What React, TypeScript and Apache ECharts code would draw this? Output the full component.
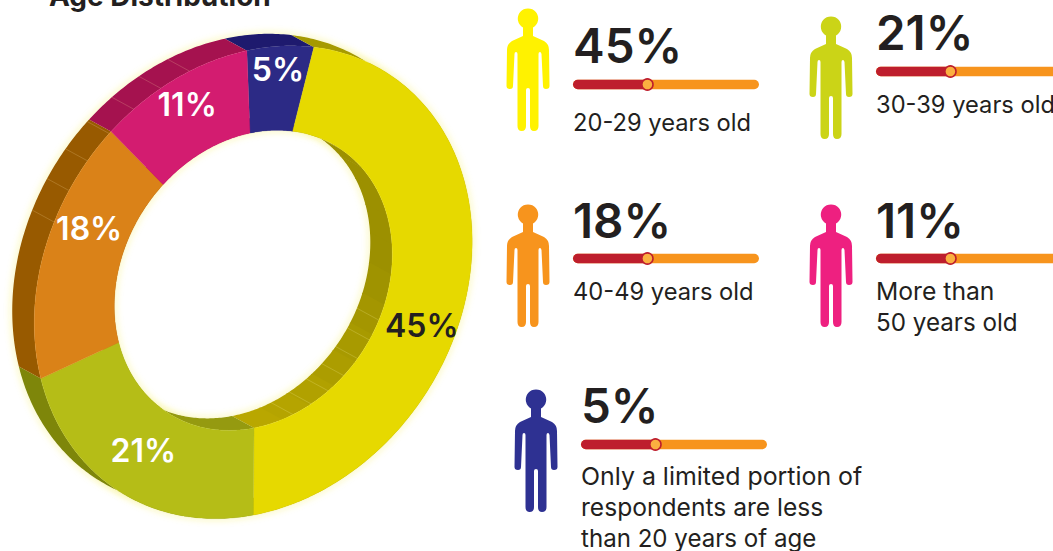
import React, { useEffect, useRef } from "react";
import * as echarts from "echarts";

// Age shares, in clockwise order from twelve o'clock
const sliceNames = ["Under 20", "20-29", "30-39", "40-49", "50+"];
const sliceValues = [5, 45, 21, 18, 11];
const faceColors = ["#2c2a85", "#e6d900", "#b5bd17", "#da8218", "#d31c70"];
const wallColors = ["#1e1a6e", "#a69a00", "#7e860a", "#985a00", "#a5124f"];
const labelColors = ["#ffffff", "#231f20", "#ffffff", "#ffffff", "#ffffff"];
// angle in degrees and fraction of the outer radius for each slice's label
const labelAngles = [3.1, 108.1, 211.7, 290.1, 335.1];
const labelRadii = [0.9, 0.84, 0.81, 0.826, 0.865];

// Legend cards
const cardValues = ["45%", "21%", "18%", "11%", "5%"];
const cardLines = [
  ["20-29 years old"],
  ["30-39 years old"],
  ["40-49 years old"],
  ["More than", "50 years old"],
  ["Only a limited portion of", "respondents are less", "than 20 years of age"],
];
const cardLineSizes = [[23.7], [23.7], [23.7], [24.7, 24.2], [24.9, 24.6, 24.1]];
const cardColors = ["#fff200", "#cbd417", "#f7941d", "#ee2080", "#2e3192"];
const cardIconX = [507, 810, 507, 810, 515];
const cardIconY = [8, 16, 204, 204, 389];
const cardTextX = [574, 877, 574, 877, 582];
const cardValueY = [45.5, 32.5, 220.5, 220.5, 405.5];
const cardBarY = [84.5, 71.5, 258.5, 258.5, 444.5];
const cardLineY = [122, 104, 291, 291, 476];

const START_ANGLE = -6;
const CENTER_X = 250;
const CENTER_Y = 279;
const RADIUS_X = 218;
const RADIUS_Y = 235.5;
const SHEAR = -19.7;
const TILT_X = 0.016;
const TILT_Y = 0.015;
const INNER = 0.635;
const HOLE_SHIFT_X = 2;
const DEPTH_X = -22;
const DEPTH_Y = -12;
const INK = "#231f20";
const FONT = "Inter";

const PERSON_PATH =
  "M16 19.5 A10.2 10.2 0 1 1 26 19.5 L26 28 L37 33 Q42 36 42 42 L42.5 78 Q42.5 81 39 81 Q36 81 36 78 L34.5 46 Q34 44 33 44 Q31.5 44 31.5 46 L31.5 118 Q31.5 123 27 123 Q23 123 23 118 L23 82 Q23 80 21 80 Q19 80 19 82 L19 118 Q19 123 14.7 123 Q10.5 123 10.5 118 L10.5 46 Q10.5 44 9 44 Q7.5 44 7.5 46 L6 78 Q6 81 3 81 Q-0.5 81 -0.5 78 L0 42 Q0 36 5 33 L16 28 Z";
echarts.graphic.registerShape("person", (echarts.graphic as any).extendPath(PERSON_PATH, {}));

// Tilted disc: a point at a clockwise angle from the top and a radius fraction
function project(deg: number, r: number, depth = 0): number[] {
  const a = (deg * Math.PI) / 180;
  const u = r * Math.sin(a);
  const v = -r * Math.cos(a);
  const w = 1 - TILT_X * u - TILT_Y * v;
  const shift = r === INNER ? HOLE_SHIFT_X : 0;
  return [
    CENTER_X + shift + (RADIUS_X * u + SHEAR * v) / w + DEPTH_X * depth,
    CENTER_Y + (SHEAR * u + RADIUS_Y * v) / w + DEPTH_Y * depth,
  ];
}

function arc(from: number, to: number, r: number, depth = 0): number[][] {
  const steps = Math.max(2, Math.ceil(Math.abs(to - from) / 0.75));
  const pts: number[][] = [];
  for (let i = 0; i <= steps; i++) pts.push(project(from + ((to - from) * i) / steps, r, depth));
  return pts;
}

function sliceRange(index: number): number[] {
  const total = sliceValues.reduce((s, v) => s + v, 0);
  const before = sliceValues.slice(0, index).reduce((s, v) => s + v, 0);
  const from = START_ANGLE + (before / total) * 360;
  return [from, from + (sliceValues[index] / total) * 360];
}

function mixColor(a: number[], b: number[], t: number): string {
  return `rgb(${a.map((c, i) => Math.round(c + (b[i] - c) * t)).join(",")})`;
}

// Side walls of one slice: an outer band and an inner band, split into shaded facets
function renderWalls(params: any) {
  const i = params.dataIndex;
  const [from, to] = sliceRange(i);
  const children: any[] = [];
  const band = (a0: number, a1: number, r: number, fill: string) => ({
    type: "polygon",
    shape: { points: [...arc(a0, a1, r, 0), ...arc(a1, a0, r, 1)] },
    style: { fill },
  });
  children.push(band(from, to, 1, wallColors[i]));
  if (i === 1) {
    const facets = 14;
    for (let k = 0; k < facets; k++) {
      const a0 = from + ((to - from) * k) / facets;
      const a1 = from + ((to - from) * (k + 1)) / facets;
      const t = Math.max(0, Math.min(1, ((a0 + a1) / 2 - 90) / 80));
      children.push(band(a0, Math.min(to, a1 + 0.6), INNER, mixColor([156, 144, 0], [186, 168, 0], t)));
    }
  } else {
    children.push(band(from, to, INNER, i === 2 ? "#959a10" : wallColors[i]));
  }
  // faint facet seams on the walls
  const seam = (deg: number, r: number, color: string) => {
    const [x1, y1] = project(deg, r, 0);
    const [x2, y2] = project(deg, r, 1);
    return { type: "line", shape: { x1, y1, x2, y2 }, style: { stroke: color, lineWidth: 0.6 } };
  };
  for (let k = 0; k < 7; k++) {
    const outer = 289 + k * 8.25;
    if (outer >= from && outer < to) children.push(seam(outer, 1, "rgba(255,225,170,0.35)"));
    const inner = 110.5 + k * 7.9;
    if (inner >= from && inner < to) children.push(seam(inner, INNER, "rgba(255,250,170,0.35)"));
  }
  return { type: "group", children };
}

// Top face of one slice with its percentage
function renderFace(params: any, api: any) {
  const i = params.dataIndex;
  const [from, to] = sliceRange(i);
  const [lx, ly] = project(labelAngles[i], labelRadii[i]);
  return {
    type: "group",
    children: [
      {
        type: "polygon",
        shape: { points: [...arc(from, to, 1), ...arc(to, from, INNER)] },
        style: { fill: faceColors[i], stroke: faceColors[i], lineWidth: 0.3 },
      },
      {
        type: "text",
        x: lx,
        y: ly,
        style: {
          text: `${api.value(0)}%`,
          fill: labelColors[i],
          font: `600 32px ${FONT}`,
          align: "center",
          verticalAlign: "middle",
        },
      },
    ],
  };
}

// Soft yellow halo beneath the ring
function renderGlow(params: any) {
  if (params.dataIndex !== 0) return null;
  const ring = (depth: number) => ({
    type: "polygon",
    shape: { points: [...arc(0, 360, 1, depth), ...arc(360, 0, INNER, depth)] },
    style: { fill: "#fffde0", shadowBlur: 8, shadowColor: "rgba(240,230,40,0.4)" },
  });
  return { type: "group", children: [ring(0), ring(1)] };
}

function buildCards(): any[] {
  const els: any[] = [];
  const barWidth = 186;
  const barHeight = 9.5;
  const knobAt = 0.4;
  cardValues.forEach((value, i) => {
    const tx = cardTextX[i] - 1;
    els.push({
      type: "person",
      x: cardIconX[i],
      y: cardIconY[i],
      style: { fill: cardColors[i] },
    });
    els.push({
      type: "text",
      x: cardTextX[i] - 1,
      y: cardValueY[i],
      style: { text: value, fill: INK, font: `600 47.5px ${FONT}`, verticalAlign: "middle" },
    });
    els.push({
      type: "rect",
      shape: { x: tx, y: cardBarY[i] - barHeight / 2, width: barWidth, height: barHeight, r: barHeight / 2 },
      style: { fill: "#f7941d" },
    });
    els.push({
      type: "rect",
      shape: {
        x: tx,
        y: cardBarY[i] - barHeight / 2,
        width: barWidth * knobAt,
        height: barHeight,
        r: [barHeight / 2, 0, 0, barHeight / 2],
      },
      style: { fill: "#be1e2d" },
    });
    els.push({
      type: "circle",
      shape: { cx: tx + barWidth * knobAt, cy: cardBarY[i], r: 5.6 },
      style: { fill: "#fbb040", stroke: "#be1e2d", lineWidth: 1.6 },
    });
    cardLines[i].forEach((line, k) => {
      els.push({
        type: "text",
        x: cardTextX[i] - 1,
        y: cardLineY[i] + k * 31,
        style: { text: line, fill: INK, font: `400 ${cardLineSizes[i][k]}px ${FONT}`, verticalAlign: "middle" },
      });
    });
  });
  els.push({
    type: "text",
    x: 49,
    y: -4,
    style: { text: "Age Distribution", fill: INK, font: `700 28px ${FONT}`, verticalAlign: "middle" },
  });
  return els;
}

export default function App() {
  const ref = useRef<HTMLDivElement>(null);
  useEffect(() => {
    const chart = echarts.init(ref.current!, null, { renderer: "svg" });
    const data = sliceValues.map((value, i) => ({ name: sliceNames[i], value }));
    const base = { type: "custom", coordinateSystem: "none", silent: true, clip: false, data };
    chart.setOption({
      animation: false,
      backgroundColor: "#ffffff",
      graphic: { elements: buildCards() },
      series: [
        { ...base, z: 1, renderItem: renderGlow },
        { ...base, z: 2, renderItem: renderWalls },
        { ...base, z: 3, renderItem: renderFace },
      ],
    } as any);
    return () => chart.dispose();
  }, []);
  return <div ref={ref} style={{ position: "absolute", left: 0, top: 0, width: 1053, height: 551 }} />;
}
